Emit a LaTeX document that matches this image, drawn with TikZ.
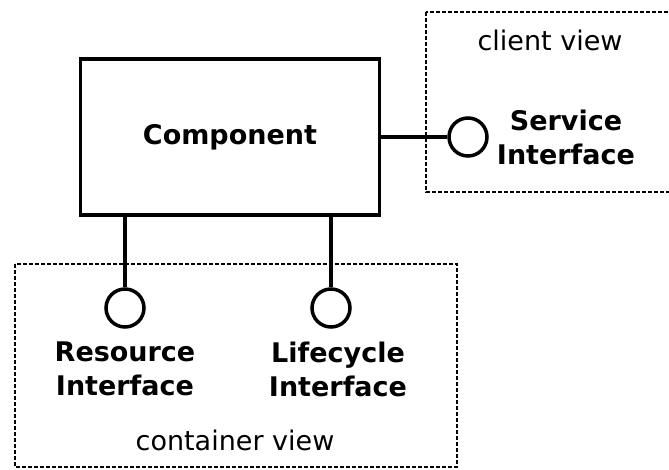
\documentclass[tikz,border=0pt]{standalone}
\usepackage{fontspec}
\setmainfont{DejaVu Sans}
\usetikzlibrary{positioning}

\begin{document}
\begin{tikzpicture}[
    x=1pt, y=-1pt,
    node distance=10pt and 12pt,
    every node/.style={font=\fontsize{27}{34}\selectfont},
    comp/.style={rectangle, draw, line width=3.5pt, minimum width=299pt, minimum height=156pt, font=\fontsize{27}{34}\selectfont\bfseries},
    iface/.style={circle, draw, line width=3.5pt, minimum size=38pt, inner sep=0pt},
    ifacetext/.style={align=center, inner sep=0pt, font=\fontsize{27}{34}\selectfont\bfseries},
    view/.style={draw, line width=2.5pt, dash pattern=on 4pt off 2pt},
    link/.style={line width=3.5pt}
]
\useasboundingbox (0,0) rectangle (669,469);

% views
\draw[view] (426,12) rectangle (700,192);
\draw[view] (15,264) rectangle (457,467);
\node (client) at (550,40) {client view};
\node (container) at (235,440) {container view};

% component and its interfaces
\node[comp] (comp) at (230,137) {Component};
\node[iface] (svc) at (468,137) {};
\node[iface] (res) at (125,308) {};
\node[iface] (life) at (331,308) {};

\node[ifacetext, right=8pt of svc] (svctext) {Service\\Interface};
\node[ifacetext, below=13pt of res] (restext) {Resource\\Interface};
\node[ifacetext, below=13pt of life, xshift=7pt] (lifetext) {Lifecycle\\Interface};

% connectors
\draw[link] (comp.east) -- (svc.west);
\draw[link] (comp.south -| res) -- (res.north);
\draw[link] (comp.south -| life) -- (life.north);

\end{tikzpicture}
\end{document}
